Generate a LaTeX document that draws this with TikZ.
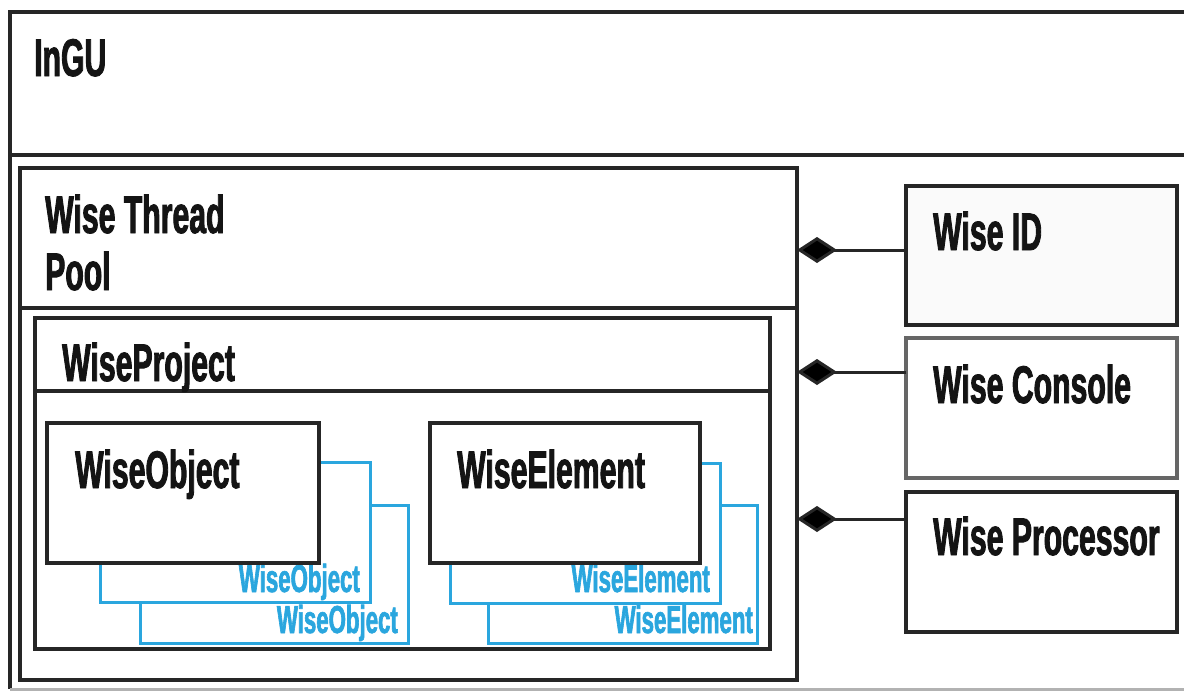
\documentclass[tikz,border=0pt]{standalone}
\usepackage{fontspec}
\usetikzlibrary{arrows.meta}
% narrow, heavy sans for all titles
\newfontfamily\condfont{Liberation Sans}[FakeStretch=0.57, FakeBold=1.6]
\definecolor{inkblack}{HTML}{141414}
\definecolor{boxgray}{HTML}{262626}
\definecolor{copyblue}{HTML}{2AA6DE}
\tikzset{
  box/.style={draw=boxgray, line width=3.5pt, rectangle, inner sep=0pt, outer sep=0pt, anchor=north west},
  title/.style={font=\condfont\bfseries\fontsize{53}{57}\selectfont, text=inkblack, inner sep=0pt, anchor=base west},
  copylabel/.style={font=\condfont\bfseries\fontsize{39}{42}\selectfont, text=copyblue, inner sep=0pt, anchor=base east},
  copyline/.style={draw=copyblue, line width=3pt},
  link/.style={draw=boxgray, line width=3pt, -{Diamond[length=40pt,width=26pt,fill=black]}}
}
\begin{document}
\begin{tikzpicture}[x=1pt, y=-1pt]
  \fill[white] (0,0) rectangle (1184,691);
  \useasboundingbox (0,0) rectangle (1184,691);

  % InGU frame (runs past the right edge)
  \draw[boxgray, line width=4pt] (1184,12) -- (10,12) -- (10,689);
  \draw[gray!60, line width=3pt] (10,689) -- (1184,689);
  \draw[boxgray, line width=3.5pt] (10,155) -- (1184,155);
  \node[title] (ingu) at (34,76) {InGU};

  % Wise Thread Pool
  \node[box, minimum width=777pt, minimum height=512pt] (wtp) at (20,168) {};
  \draw[boxgray, line width=3.5pt] (wtp.west |- 0,308) -- (wtp.east |- 0,308);
  \node[title] (wtpt1) at (45,233) {Wise Thread};
  \node[title] (wtpt2) at (45,290) {Pool};

  % WiseProject
  \node[box, minimum width=735pt, minimum height=331pt] (proj) at (35,318) {};
  \draw[boxgray, line width=3.5pt] (proj.west |- 0,391) -- (proj.east |- 0,391);
  \node[title] (projt) at (62,381) {WiseProject};

  % stacked copies behind WiseObject
  \draw[copyline] (318,462) -| (370,602) -| (100,563);
  \draw[copyline] (370,505) -| (408,643) -| (140,602);
  \node[copylabel] (objc1) at (360,592) {WiseObject};
  \node[copylabel] (objc2) at (398,633) {WiseObject};

  % stacked copies behind WiseElement
  \draw[copyline] (700,463) -| (720,603) -| (450,563);
  \draw[copyline] (720,505) -| (757,643) -| (488,603);
  \node[copylabel] (elc1) at (710,592) {WiseElement};
  \node[copylabel] (elc2) at (753,633) {WiseElement};

  % WiseObject and WiseElement
  \node[box, fill=white, minimum width=272pt, minimum height=140pt] (obj) at (47,423) {};
  \node[title] (objt) at (75,488) {WiseObject};
  \node[box, fill=white, minimum width=270pt, minimum height=140pt] (elem) at (430,423) {};
  \node[title] (elemt) at (457,488) {WiseElement};

  % components on the right
  \node[box, fill=black!2, minimum width=271pt, minimum height=139pt] (wid) at (906,186) {};
  \node[title] (widt) at (933,250) {Wise ID};
  \node[box, draw=black!60, minimum width=271pt, minimum height=140pt] (wcon) at (906,338) {};
  \node[title] (wcont) at (933,403) {Wise Console};
  \node[box, minimum width=271pt, minimum height=140pt] (wproc) at (906,492) {};
  \node[title] (wproct) at (933,555) {Wise Processor};

  % composition links to the thread pool
  \coordinate (widport) at ([yshift=-64pt]wid.north west);
  \coordinate (wconport) at ([yshift=-34pt]wcon.north west);
  \coordinate (wprocport) at ([yshift=-27pt]wproc.north west);
  \draw[link] (widport) -- (widport -| wtp.east);
  \draw[link] (wconport) -- (wconport -| wtp.east);
  \draw[link] (wprocport) -- (wprocport -| wtp.east);
\end{tikzpicture}
\end{document}
